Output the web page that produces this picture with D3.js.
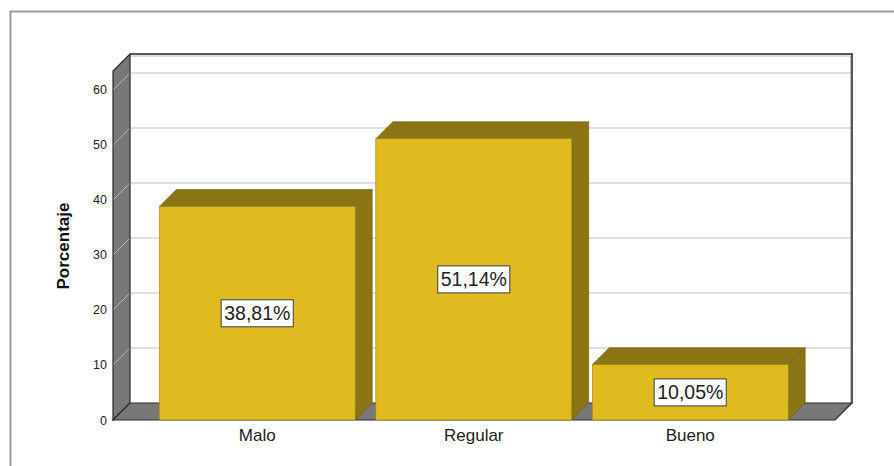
<!DOCTYPE html>
<html>
<head>
<meta charset="utf-8">
<script src="https://cdn.jsdelivr.net/npm/d3@7"></script>
<style>
  body { margin: 0; background: #fff; }
  svg text { font-family: Arial, "Liberation Sans", sans-serif; }
</style>
</head>
<body>
<div id="chart"></div>
<script>
// data
var categories = ['Malo', 'Regular', 'Bueno'];
var percents = [38.81, 51.14, 10.05];
var percentLabels = ['38,81%', '51,14%', '10,05%'];
var yTicks = [0, 10, 20, 30, 40, 50, 60];

var W = 894, H = 466;
var depth = { dx: 17, dy: 17 };
var plot = { left: 113, right: 835, bottom: 420 };

var svg = d3.select('#chart').append('svg')
    .attr('width', W)
    .attr('height', H);

// outer frame (only top/left visible)
svg.append('rect')
    .attr('x', 10.5).attr('y', 11.5)
    .attr('width', W + 20).attr('height', H + 20)
    .attr('fill', 'none')
    .attr('stroke', '#9a9a9a')
    .attr('stroke-width', 2);

var y = d3.scaleLinear().domain([0, 63.45]).range([plot.bottom, 71]);
var x = d3.scaleBand().domain(categories).range([149, 798.5])
    .paddingInner(0.095).paddingOuter(0.0475);

var yTop = y.range()[1];

// BACK WALL
svg.append('rect')
    .attr('x', plot.left + depth.dx)
    .attr('y', yTop - depth.dy)
    .attr('width', plot.right - plot.left)
    .attr('height', plot.bottom - yTop)
    .attr('fill', '#fff');

// gridlines on back wall
var grid = svg.append('g').attr('class', 'grid');
grid.selectAll('line.back').data(yTicks.slice(1)).enter()
    .append('line')
    .attr('x1', plot.left + depth.dx)
    .attr('x2', plot.right + depth.dx)
    .attr('y1', function(d) { return y(d) - depth.dy; })
    .attr('y2', function(d) { return y(d) - depth.dy; })
    .attr('stroke', '#d4d4d4')
    .attr('stroke-width', 1.5);

// back wall outline (top and right)
svg.append('path')
    .attr('d', 'M' + (plot.left + depth.dx + 1) + ',' + (yTop - depth.dy + 2) +
        'H' + (plot.right + depth.dx - 1.5) + 'V' + (plot.bottom - depth.dy))
    .attr('fill', 'none')
    .attr('stroke', '#bbb')
    .attr('stroke-width', 1);
svg.append('path')
    .attr('d', 'M' + (plot.left + depth.dx) + ',' + (yTop - depth.dy) +
        'H' + (plot.right + depth.dx) + 'V' + (plot.bottom - depth.dy))
    .attr('fill', 'none')
    .attr('stroke', '#222')
    .attr('stroke-width', 1.5);

// LEFT WALL
svg.append('polygon')
    .attr('points', [
        [plot.left, plot.bottom],
        [plot.left, yTop],
        [plot.left + depth.dx, yTop - depth.dy],
        [plot.left + depth.dx, plot.bottom - depth.dy]
    ].join(' '))
    .attr('fill', '#787878')
    .attr('stroke', '#2a2a2a')
    .attr('stroke-width', 1.2);

// gridlines crossing the left wall
svg.append('g').selectAll('line').data(yTicks.slice(1)).enter()
    .append('line')
    .attr('x1', plot.left + 0.6)
    .attr('x2', plot.left + depth.dx - 0.6)
    .attr('y1', function(d) { return y(d) - 0.6; })
    .attr('y2', function(d) { return y(d) - depth.dy + 0.6; })
    .attr('stroke', '#b4b4b4')
    .attr('stroke-width', 1);

// FLOOR
svg.append('polygon')
    .attr('points', [
        [plot.left, plot.bottom],
        [plot.right, plot.bottom],
        [plot.right + depth.dx, plot.bottom - depth.dy],
        [plot.left + depth.dx, plot.bottom - depth.dy]
    ].join(' '))
    .attr('fill', '#787878')
    .attr('stroke', '#2a2a2a')
    .attr('stroke-width', 1.2);

// BARS
var bw = x.bandwidth();
var bars = svg.append('g').attr('class', 'bars')
    .selectAll('g').data(categories).enter()
    .append('g');

bars.append('polygon') // side
    .attr('points', function(d, i) {
        var x0 = x(d) + bw, yt = y(percents[i]);
        return [[x0, yt], [x0 + depth.dx, yt - depth.dy],
            [x0 + depth.dx, plot.bottom - depth.dy], [x0, plot.bottom]].join(' ');
    })
    .attr('fill', '#8b7413')
    .attr('stroke', '#6e5c10')
    .attr('stroke-width', 0.6);

bars.append('polygon') // top
    .attr('points', function(d, i) {
        var x0 = x(d), yt = y(percents[i]);
        return [[x0, yt], [x0 + depth.dx, yt - depth.dy],
            [x0 + bw + depth.dx, yt - depth.dy], [x0 + bw, yt]].join(' ');
    })
    .attr('fill', '#8b7413')
    .attr('stroke', '#6e5c10')
    .attr('stroke-width', 0.6);

bars.append('rect') // front
    .attr('x', function(d) { return x(d); })
    .attr('y', function(d, i) { return y(percents[i]); })
    .attr('width', bw)
    .attr('height', function(d, i) { return plot.bottom - y(percents[i]); })
    .attr('fill', '#e0bb1f')
    .attr('stroke', '#9c8418')
    .attr('stroke-width', 0.6);

// value labels
var labels = bars.append('g')
    .attr('transform', function(d, i) {
        return 'translate(' + (x(d) + bw / 2) + ',' +
            ((y(percents[i]) + plot.bottom) / 2) + ')';
    });
labels.append('text')
    .attr('text-anchor', 'middle')
    .attr('dy', '0.36em')
    .attr('font-size', 19.5)
    .attr('fill', '#222')
    .text(function(d, i) { return percentLabels[i]; })
    .each(function() {
        var bb = this.getBBox();
        d3.select(this.parentNode).insert('rect', 'text')
            .attr('x', bb.x - 3)
            .attr('y', -13.5)
            .attr('width', bb.width + 6)
            .attr('height', 27)
            .attr('fill', '#fff')
            .attr('stroke', '#555')
            .attr('stroke-width', 1.2);
    });

// AXES
var yAxis = svg.append('g')
    .attr('transform', 'translate(' + plot.left + ',0)')
    .call(d3.axisLeft(y).tickValues(yTicks).tickSize(0).tickPadding(6));
yAxis.select('.domain').remove();
yAxis.selectAll('text')
    .attr('font-size', 12.5)
    .attr('font-family', 'Arial, "Liberation Sans", sans-serif')
    .attr('fill', '#222');

var xAxis = svg.append('g')
    .attr('transform', 'translate(0,' + plot.bottom + ')')
    .call(d3.axisBottom(x).tickSize(0).tickPadding(9));
xAxis.select('.domain').remove();
xAxis.selectAll('text')
    .attr('font-size', 17)
    .attr('font-family', 'Arial, "Liberation Sans", sans-serif')
    .attr('fill', '#222');

// y title
svg.append('text')
    .attr('transform', 'translate(69,246) rotate(-90)')
    .attr('text-anchor', 'middle')
    .attr('font-size', 17)
    .attr('font-weight', 'bold')
    .attr('fill', '#111')
    .text('Porcentaje');
</script>
</body>
</html>
